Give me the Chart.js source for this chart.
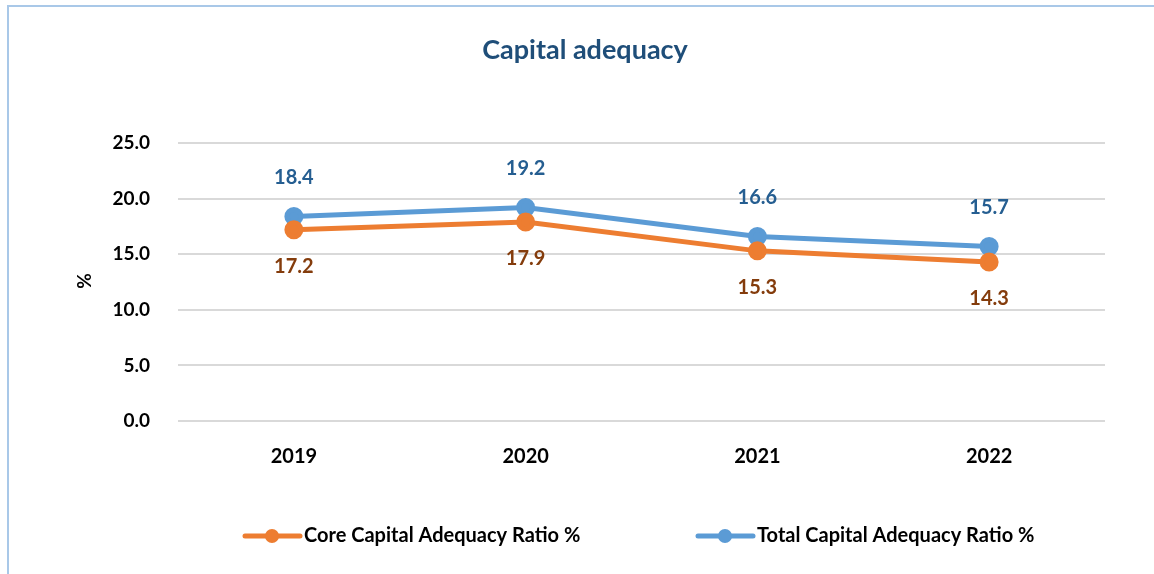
<!DOCTYPE html>
<html>
<head>
<meta charset="utf-8">
<script src="https://cdn.jsdelivr.net/npm/chart.js@4.4.0/dist/chart.umd.min.js"></script>
<style>
  html, body { margin: 0; padding: 0; background: #fff; }
  #wrap { position: absolute; left: 0; top: 0; width: 1154px; height: 574px; }
  #frame { position: absolute; left: 7px; top: 5px; width: 1160px; height: 600px;
           border-left: 2px solid #A9C8E8; border-top: 2px solid #A9C8E8; }
  canvas { position: absolute; left: 0; top: 0; }
</style>
</head>
<body>
<div id="wrap">
  <div id="frame"></div>
  <canvas id="myChart" width="1154" height="574"></canvas>
</div>
<script>
const years = ['2019', '2020', '2021', '2022'];
const coreRatio = [17.2, 17.9, 15.3, 14.3];
const totalRatio = [18.4, 19.2, 16.6, 15.7];
const yTicks = [0, 5, 10, 15, 20, 25];

const FONT = 'Lato, "Open Sans", sans-serif';

// value labels: total above, core below
const valueLabels = {
  id: 'valueLabels',
  afterDatasetsDraw(chart) {
    const ctx = chart.ctx;
    ctx.save();
    ctx.font = 'bold 20px ' + FONT;
    ctx.textAlign = 'center';
    ctx.textBaseline = 'middle';
    chart.data.datasets.forEach((ds, i) => {
      const meta = chart.getDatasetMeta(i);
      meta.data.forEach((pt, j) => {
        ctx.fillStyle = ds.labelColor;
        const dy = ds.labelAbove ? -39 : 37;
        ctx.fillText(ds.data[j].toFixed(1), pt.x, pt.y + dy);
      });
    });
    ctx.restore();
  }
};

// title, y axis title, legend
const decorations = {
  id: 'decorations',
  afterDraw(chart) {
    const ctx = chart.ctx;
    ctx.save();
    ctx.fillStyle = '#1F4E79';
    ctx.font = 'bold 27px ' + FONT;
    ctx.textAlign = 'center';
    ctx.textBaseline = 'middle';
    ctx.fillText('Capital adequacy', 585, 50);

    ctx.fillStyle = '#000';
    ctx.font = 'bold 19px ' + FONT;
    ctx.translate(85, 281);
    ctx.rotate(-Math.PI / 2);
    ctx.fillText('%', 0, 0);
    ctx.restore();

    ctx.save();
    const legendX = [245, 698];
    chart.data.datasets.forEach((ds, i) => {
      const x = legendX[i], y = 536;
      ctx.strokeStyle = ds.borderColor;
      ctx.lineWidth = 5;
      ctx.lineCap = 'round';
      ctx.beginPath();
      ctx.moveTo(x, y);
      ctx.lineTo(x + 55, y);
      ctx.stroke();
      ctx.fillStyle = ds.borderColor;
      ctx.beginPath();
      ctx.arc(x + 27, y, 7, 0, Math.PI * 2);
      ctx.fill();
      ctx.fillStyle = '#000';
      ctx.font = 'bold 20px ' + FONT;
      ctx.textAlign = 'left';
      ctx.textBaseline = 'middle';
      ctx.fillText(ds.label, x + 59, y);
    });
    ctx.restore();
  }
};

const ctx = document.getElementById('myChart');

const chartConfig = {
  type: 'line',
  data: {
    labels: years,
    datasets: [
      {
        label: 'Core Capital Adequacy Ratio %',
        data: coreRatio,
        borderColor: '#ED7D31',
        backgroundColor: '#ED7D31',
        labelColor: '#843C0C',
        labelAbove: false,
        borderWidth: 5,
        pointRadius: 7,
        pointHoverRadius: 7,
        tension: 0
      },
      {
        label: 'Total Capital Adequacy Ratio %',
        data: totalRatio,
        borderColor: '#5B9BD5',
        backgroundColor: '#5B9BD5',
        labelColor: '#255E91',
        labelAbove: true,
        borderWidth: 5,
        pointRadius: 7,
        pointHoverRadius: 7,
        tension: 0
      }
    ]
  },
  options: {
    responsive: false,
    animation: { duration: 0 },
    layout: { padding: { left: 0, right: 49, top: 143, bottom: 0 } },
    plugins: {
      legend: { display: false },
      title: { display: false },
      tooltip: { enabled: false }
    },
    scales: {
      x: {
        offset: true,
        grid: { display: false },
        border: { display: false },
        ticks: {
          color: '#000',
          font: { family: FONT, size: 20, weight: 'bold' },
          padding: 16
        },
        afterFit(scale) { scale.height = 153; }
      },
      y: {
        min: 0,
        max: 25,
        afterBuildTicks(scale) { scale.ticks = yTicks.map(v => ({ value: v })); },
        grid: { color: '#D9D9D9', lineWidth: 2, drawTicks: false },
        border: { display: false },
        ticks: {
          color: '#000',
          font: { family: FONT, size: 19, weight: 'bold' },
          padding: 28,
          callback: v => v.toFixed(1)
        },
        afterFit(scale) { scale.width = 178; }
      }
    }
  },
  plugins: [valueLabels, decorations]
};

const myChart = new Chart(ctx, chartConfig);
</script>
</body>
</html>
